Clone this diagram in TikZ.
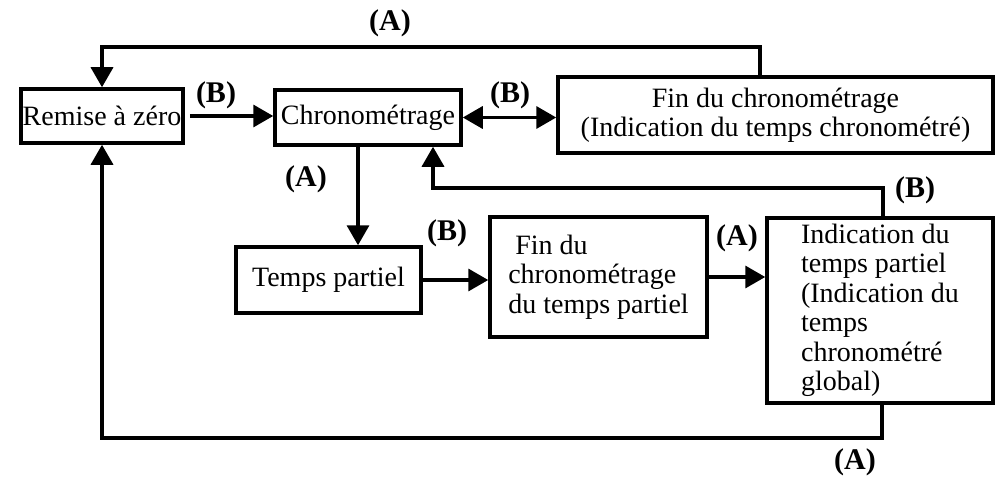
\documentclass[tikz,border=0pt]{standalone}
\usepackage{fontspec}
\setmainfont{Liberation Serif}
\usetikzlibrary{arrows.meta}
\begin{document}
\begin{tikzpicture}[x=1pt,y=-1pt,
  box/.style={draw, line width=3.5pt, inner sep=0pt, font=\fontsize{28}{29.5}\selectfont},
  tip/.tip={Triangle[length=20pt,width=22pt]},
  conn/.style={line width=3.5pt, -tip},
  lab/.style={font=\fontsize{30}{32}\selectfont\bfseries}]
\useasboundingbox (0,0) rectangle (1000,476);
% boxes
\node[box, minimum width=162pt, minimum height=54pt] (rz) at (102,116) {Remise à zéro};
\node[box, minimum width=186pt, minimum height=55pt] (ch) at (368,117.5) {Chronométrage};
\node[box, minimum width=435pt, minimum height=76pt, align=center] (fin) at (775.5,115)
  {Fin du chronométrage\\(Indication du temps chronométré)};
\node[box, minimum width=185pt, minimum height=66pt] (tp) at (328.5,280) {Temps partiel};
\node[box, minimum width=217pt, minimum height=120pt, align=left] (fp) at (598.5,277)
  {\hspace*{7pt}Fin du\\chronométrage\\du temps partiel};
\node[box, minimum width=226pt, minimum height=185pt, align=left] (ind) at (880,310.5)
  {Indication du\\temps partiel\\(Indication du\\temps\\chronométré\\global)};
% helper coordinates
\coordinate (topR) at (760,47);
\coordinate (topL) at (102,47);
\coordinate (dn) at (358,0);
\coordinate (upR) at (883,188);
\coordinate (upL) at (433,188);
\coordinate (botR) at (882,438);
\coordinate (botL) at (102,438);
% connectors
\draw[conn] (fin.north -| topR) -- (topR) -- (topL) -- (rz.north);
\draw[conn] ([xshift=5pt]rz.east) -- (rz.east -| ch.west);
\draw[line width=3.5pt, tip-tip] (ch.east) -- (ch.east -| fin.west);
\draw[conn] (ch.south -| dn) -- (tp.north -| dn);
\draw[conn] (ind.north -| upR) -- (upR) -- (upL) -- (ch.south -| upL);
\draw[conn] (tp.east) -- (tp.east -| fp.west);
\draw[conn] (fp.east) -- (fp.east -| ind.west);
\draw[conn] (ind.south -| botR) -- (botR) -- (botL) -- (rz.south);
% labels
\node[lab] (lA1) at (390,23) {(A)};
\node[lab] (lB1) at (216,95) {(B)};
\node[lab] (lB2) at (510,95) {(B)};
\node[lab] (lA2) at (306,179) {(A)};
\node[lab] (lB3) at (915,190) {(B)};
\node[lab] (lB4) at (447,233) {(B)};
\node[lab] (lA3) at (737,238) {(A)};
\node[lab] (lA4) at (855,462) {(A)};
\end{tikzpicture}
\end{document}
